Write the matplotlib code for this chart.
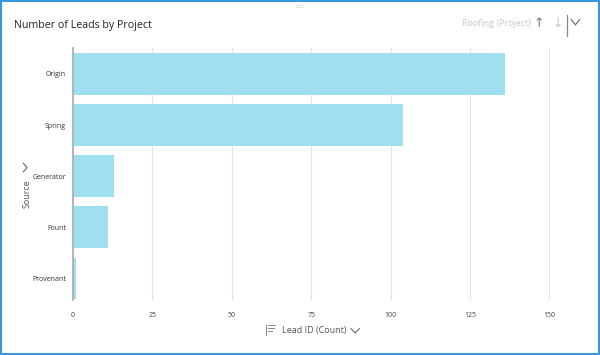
import matplotlib.pyplot as plt
from matplotlib.lines import Line2D
from matplotlib.patches import Rectangle

# data
sources = ['Origin', 'Spring', 'Generator', 'Fount', 'Provenant']
lead_counts = [136, 104, 13, 11, 1]
x_ticks = [0, 25, 50, 75, 100, 125, 150]

plt.rcParams['font.family'] = ['Open Sans', 'DejaVu Sans']

fig = plt.figure(figsize=(6, 3.55), dpi=100)
ax = fig.add_axes([0.1217, 0.155, 0.847, 0.71])

ax.barh(sources, lead_counts, height=0.82, color='#a0dff0', zorder=2)
ax.set_ylim(4.42, -0.51)
ax.set_xlim(0, 160)
ax.set_xticks(x_ticks)
ax.tick_params(axis='x', length=0, labelsize=5, labelcolor='#444444', pad=9)
ax.tick_params(axis='y', length=0, labelsize=5, labelcolor='#333333', pad=5)
ax.grid(axis='x', color='#e3e3e3', linewidth=0.8, zorder=0)
for s in ['top', 'right', 'bottom']:
    ax.spines[s].set_visible(False)
ax.spines['left'].set_color('#aaaaaa')
ax.spines['left'].set_linewidth(1.2)

# titles and header
fig.text(0.023, 0.928, 'Number of Leads by Project', fontsize=7.7,
         color='#252423', va='center')
fig.text(0.885, 0.933, 'Roofing (Project)', fontsize=6.5, color='#c8c8c8',
         ha='right', va='center')
fig.text(0.898, 0.933, '↑', fontsize=9, color='#777777', ha='center', va='center')
fig.text(0.929, 0.933, '↓', fontsize=9, color='#c8c8c8', ha='center', va='center')
fig.add_artist(Line2D([0.945, 0.945], [0.9, 0.958], color='#888888', lw=0.9))
fig.add_artist(Line2D([0.952, 0.959, 0.966], [0.945, 0.93, 0.945],
                      color='#666666', lw=0.8))

# axis labels
fig.text(0.045, 0.455, 'Source', fontsize=6.5, color='#555555', rotation=90,
         ha='center', va='center')
fig.add_artist(Line2D([0.039, 0.045, 0.039], [0.54, 0.528, 0.516],
                      color='#666666', lw=0.8))
fig.text(0.523, 0.068, 'Lead ID (Count)', fontsize=6.5, color='#555555',
         ha='center', va='center')
fig.add_artist(Line2D([0.585, 0.592, 0.599], [0.074, 0.062, 0.074],
                      color='#666666', lw=0.8))
# sort icon
fig.add_artist(Line2D([0.443, 0.443], [0.055, 0.085], color='#888888', lw=0.7))
for i, w in enumerate([0.012, 0.009, 0.006]):
    yy = 0.085 - i * 0.009
    fig.add_artist(Line2D([0.447, 0.447 + w], [yy, yy], color='#888888', lw=0.7))

# drag handle and frame
fig.text(0.5, 0.982, '::::::', fontsize=4, color='#999999', ha='center', va='center')
fig.add_artist(Rectangle((0.002, 0.003), 0.996, 0.994, transform=fig.transFigure,
                         fill=False, edgecolor='#3a96dd', lw=1.5))

fig.savefig('out.png', dpi=100)
